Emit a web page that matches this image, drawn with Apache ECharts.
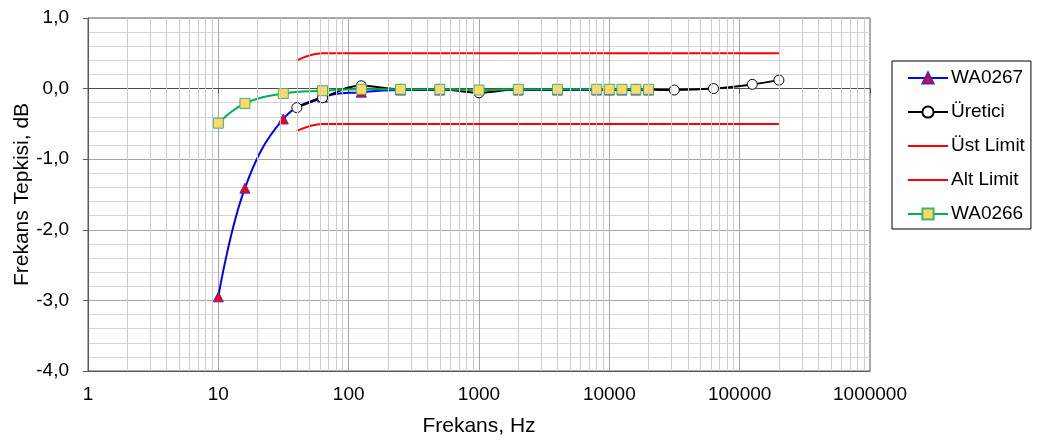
<!DOCTYPE html>
<html>
<head>
<meta charset="utf-8">
<script src="https://cdn.jsdelivr.net/npm/echarts@6/dist/echarts.min.js"></script>
<style>
  html, body { margin: 0; padding: 0; background: #fff; }
  #chart { width: 1038px; height: 440px; }
</style>
</head>
<body>
<div id="chart"></div>
<script>
// frequencies (Hz)
const freqWA = [10, 16, 31.5, 63, 125, 250, 500, 1000, 2000, 4000, 8000, 10000, 12500, 16000, 20000];
const freqUretici = [40, 63, 125, 250, 500, 1000, 2000, 4000, 8000, 16000, 31500, 63000, 125000, 200000];
const freqLimit = [40, 63, 125, 250, 500, 1000, 2000, 4000, 8000, 16000, 31500, 63000, 125000, 200000];

// responses (dB)
const wa0267 = [-2.95, -1.41, -0.43, -0.12, -0.05, -0.02, -0.02, -0.02, -0.02, -0.02, -0.02, -0.02, -0.02, -0.02, -0.02];
const wa0266 = [-0.49, -0.21, -0.07, -0.03, -0.01, -0.01, -0.01, -0.02, -0.01, -0.01, -0.01, -0.01, -0.01, -0.01, -0.01];
const uretici = [-0.27, -0.13, 0.04, -0.01, -0.01, -0.06, -0.01, -0.01, -0.01, -0.01, -0.02, 0.0, 0.06, 0.12];
const ustLimit = [0.4, 0.5, 0.5, 0.5, 0.5, 0.5, 0.5, 0.5, 0.5, 0.5, 0.5, 0.5, 0.5, 0.5];
const altLimit = [-0.6, -0.5, -0.5, -0.5, -0.5, -0.5, -0.5, -0.5, -0.5, -0.5, -0.5, -0.5, -0.5, -0.5];

// minor log gridlines 2..9 in each decade
const minorX = [];
for (let d = 1; d < 1000000; d *= 10) {
  for (let k = 2; k <= 9; k++) minorX.push(k * d);
}

const pairs = (xs, ys) => xs.map((x, i) => [x, ys[i]]);
const FONT = '"Liberation Sans", Arial, sans-serif';

const chart = echarts.init(document.getElementById('chart'));
chart.setOption({
  animation: false,
  textStyle: { fontFamily: FONT },
  grid: {
    left: 88, right: 168, top: 18, bottom: 69,
    outerBoundsMode: 'none',
    show: true, borderColor: '#595959', borderWidth: 1
  },
  legend: {
    // limit lines have no marker, hide the default legend symbol
    data: [
      { name: 'WA0267' },
      { name: 'Üretici' },
      { name: 'Üst Limit', itemStyle: { opacity: 0 } },
      { name: 'Alt Limit', itemStyle: { opacity: 0 } },
      { name: 'WA0266' }
    ],
    orient: 'vertical',
    left: 892, top: 61,
    padding: [7, 6, 5, 15],
    itemWidth: 40, itemHeight: 14, itemGap: 14,
    borderColor: '#000', borderWidth: 1, borderRadius: 0,
    textStyle: { fontSize: 19, lineHeight: 20, color: '#000', fontFamily: FONT, padding: [0, 0, 0, -2] }
  },
  xAxis: [
    {
      type: 'log', logBase: 10, min: 1, max: 1000000, splitNumber: 6,
      position: 'bottom',
      name: 'Frekans, Hz', nameLocation: 'middle', nameGap: 45,
      nameTextStyle: { fontSize: 21, color: '#000', fontFamily: FONT },
      axisLine: { onZero: false, lineStyle: { color: '#595959' } },
      axisTick: { show: false },
      axisLabel: {
        fontSize: 19, color: '#000', margin: 14, fontFamily: FONT,
        formatter: v => String(Math.round(v))
      },
      splitLine: { show: true, lineStyle: { color: '#a6a6a6', width: 1 } }
    },
    {
      type: 'log', logBase: 10, min: 1, max: 1000000, splitNumber: 6,
      position: 'bottom',
      axisLine: { onZero: true, onZeroAxisIndex: 0, lineStyle: { color: '#4d4d4d' } },
      axisTick: { show: true, length: 5, lineStyle: { color: '#4d4d4d' } },
      axisLabel: { show: false },
      splitLine: { show: false }
    }
  ],
  yAxis: {
    type: 'value', min: -4, max: 1, interval: 1,
    name: 'Frekans Tepkisi, dB', nameLocation: 'middle', nameGap: 55,
    nameMoveOverlap: false,
    nameTextStyle: { fontSize: 21, color: '#000', fontFamily: FONT },
    axisLine: { show: true, lineStyle: { color: '#595959' } },
    axisTick: { show: true, length: 5, lineStyle: { color: '#595959' } },
    axisLabel: {
      fontSize: 19, color: '#000', margin: 19, fontFamily: FONT,
      formatter: v => v.toFixed(1).replace('.', ',')
    },
    splitLine: { show: true, lineStyle: { color: '#a6a6a6', width: 1 } },
    minorTick: { show: false, splitNumber: 5 },
    minorSplitLine: { show: true, lineStyle: { color: '#d4d4d4', width: 1 } }
  },
  series: [
    {
      name: 'minorGrid', type: 'line', data: [], silent: true, z: 0,
      markLine: {
        silent: true, symbol: 'none', label: { show: false }, animation: false,
        lineStyle: { color: '#cccccc', width: 1, type: 'solid' },
        data: minorX.map(v => ({ xAxis: v }))
      }
    },
    {
      name: 'WA0267', type: 'line', smooth: 0.4,
      data: pairs(freqWA, wa0267),
      symbol: 'triangle', symbolSize: 10,
      lineStyle: { color: '#0000ff', width: 2 },
      itemStyle: { color: '#ff0000', borderColor: '#3b2bdc', borderWidth: 1 }
    },
    {
      name: 'Üretici', type: 'line', smooth: 0.4,
      data: pairs(freqUretici, uretici),
      symbol: 'circle', symbolSize: 10,
      lineStyle: { color: '#000000', width: 2 },
      itemStyle: { color: '#ffffff', borderColor: '#000000', borderWidth: 1 }
    },
    {
      name: 'Üst Limit', type: 'line', smooth: 0.4,
      data: pairs(freqLimit, ustLimit),
      symbol: 'none',
      lineStyle: { color: '#ff0000', width: 2 },
      itemStyle: { color: '#ff0000' }
    },
    {
      name: 'Alt Limit', type: 'line', smooth: 0.4,
      data: pairs(freqLimit, altLimit),
      symbol: 'none',
      lineStyle: { color: '#ff0000', width: 2 },
      itemStyle: { color: '#ff0000' }
    },
    {
      name: 'WA0266', type: 'line', smooth: 0.4,
      data: pairs(freqWA, wa0266),
      symbol: 'rect', symbolSize: 10,
      lineStyle: { color: '#00b050', width: 2 },
      itemStyle: { color: '#ffd966', borderColor: '#3cb371', borderWidth: 1 }
    }
  ]
});
</script>
</body>
</html>
